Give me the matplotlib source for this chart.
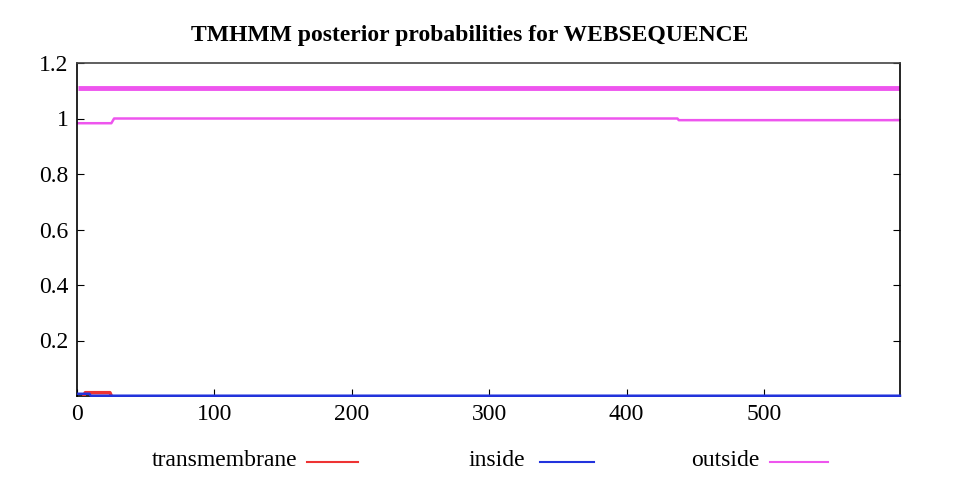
import matplotlib
matplotlib.use("Agg")
import matplotlib.pyplot as plt
from matplotlib.lines import Line2D

plt.rcParams['font.family'] = ['Liberation Serif', 'DejaVu Serif']

seq_len = 599
# outside probability (step breakpoints)
out_x = [1, 25, 27, 437, 438, 599]
out_y = [0.983, 0.983, 1.0, 1.0, 0.994, 0.994]
# transmembrane probability
tm_x = [5, 6, 24, 25]
tm_y = [0.0, 0.012, 0.012, 0.0]
# inside probability
in_x = [1, 9, 10, 599]
in_y = [0.008, 0.008, 0.001, 0.001]
# topology bar (outside whole sequence)
topo_x = [1, 599]
topo_y = [1.11, 1.11]

xticks = [0, 100, 200, 300, 400, 500]
yticks = [0.2, 0.4, 0.6, 0.8, 1, 1.2]
ylabels = ['0.2', '0.4', '0.6', '0.8', '1', '1.2']

fig = plt.figure(figsize=(9.59, 4.84), dpi=100)
ax = fig.add_axes([77/959, 1-396/484, (900-77)/959, (396-63)/484])

ax.plot(topo_x, topo_y, color='#ee55ee', lw=3.5, solid_capstyle='butt')
ax.plot(out_x, out_y, color='#ee55ee', lw=1.8)
ax.plot(tm_x, tm_y, color='#ee3333', lw=2.5, zorder=3)
ax.plot(in_x, in_y, color='#2233dd', lw=1.8, zorder=4, clip_on=False)

ax.set_xlim(0, seq_len)
ax.set_ylim(0, 1.2)
ax.set_xticks(xticks)
ax.set_yticks(yticks)
ax.set_yticklabels(ylabels)
ax.tick_params(direction='in', length=5, labelsize=17, top=False, right=True, pad=6)
for s in ax.spines.values():
    s.set_linewidth(1.2)
ax.spines['top'].set_color('#444444')

fig.text(470/959, 1-35/484, 'TMHMM posterior probabilities for WEBSEQUENCE',
         ha='center', va='center', fontsize=17, fontweight='bold')

# legend
items = [('transmembrane', '#ee3333', 297, 307, 358),
         ('inside', '#2233dd', 525, 540, 594),
         ('outside', '#ee55ee', 760, 770, 828)]
for label, c, tx, x0, x1 in items:
    fig.text(tx/959, 1-460/484, label, ha='right', va='center', fontsize=17)
    fig.add_artist(Line2D([x0/959, x1/959], [1-462/484, 1-462/484],
                          color=c, lw=1.5, transform=fig.transFigure))

fig.savefig('out.png', dpi=100)
